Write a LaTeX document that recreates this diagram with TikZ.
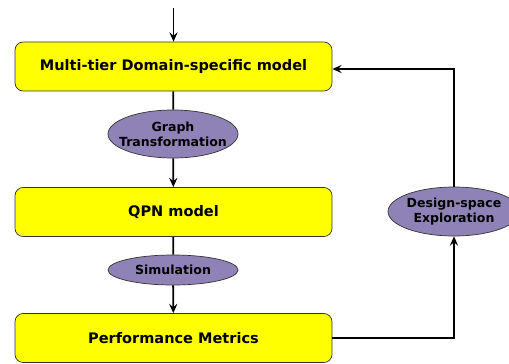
\documentclass[tikz,border=0pt]{standalone}
\usepackage{fontspec}
\setmainfont{DejaVu Sans}
\usetikzlibrary{shapes.geometric,arrows.meta}
\definecolor{boxyellow}{HTML}{FFFF00}
\definecolor{ovalpurple}{HTML}{8F82B6}

\begin{document}
\begin{tikzpicture}[x=0.03cm,y=-0.03cm,>={Stealth[length=8pt,width=7pt,inset=3pt]}]
    \tikzstyle{model}=[rectangle,rounded corners=7pt,draw=black!80,line width=0.6pt,fill=boxyellow,minimum width=317*0.03cm,minimum height=49*0.03cm,inner sep=0pt,font=\bfseries\fontsize{12.4}{14}\selectfont]
    \tikzstyle{action}=[ellipse,draw=black!80,line width=0.6pt,fill=ovalpurple,minimum width=130*0.03cm,inner xsep=-12pt,inner ysep=-5pt,align=center,font=\bfseries\fontsize{10.7}{12.8}\selectfont]
    \tikzstyle{flow}=[line width=1.5pt]
    \useasboundingbox (0,0) rectangle (509,363);

    \foreach \name/\y/\txt in {dsm/66.5/Multi-tier Domain-specific model, qpn/212/QPN model, perf/338/Performance Metrics}
        \node[model] (\name) at (173.5,\y) {\txt};

    \node[action,minimum height=48*0.03cm] (gt) at (173,134) {Graph\\Transformation};
    \node[action,minimum height=30*0.03cm] (sim) at (173,270) {Simulation};
    \node[action,minimum width=132*0.03cm,minimum height=49*0.03cm] (dse) at (454,211.5) {Design-space\\Exploration};

    \coordinate (start) at (173.5,8);
    \draw[flow,->] (start) -- (dsm);
    \draw[flow] (dsm) -- (gt);
    \draw[flow,->] (gt) -- (qpn);
    \draw[flow] (qpn) -- (sim);
    \draw[flow,->] (sim) -- (perf);
    \draw[flow,->] (perf.east) -| (dse);
    \draw[flow,->] (dse) |- (dsm.east |- 0,69);
\end{tikzpicture}
\end{document}
